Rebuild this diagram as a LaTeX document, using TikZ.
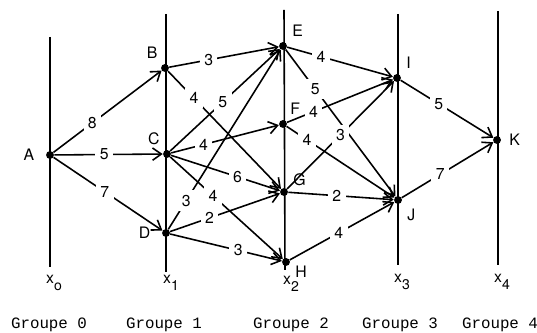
\documentclass[tikz,border=0pt]{standalone}
\usepackage{fontspec}
\setmainfont{TeX Gyre Heros}
\newfontfamily\groupefont{Liberation Mono}
\newcommand\xsub[1]{x\raisebox{-4pt}{\fontsize{8}{9}\selectfont #1}}
\usetikzlibrary{arrows.meta, positioning}

\begin{document}
\begin{tikzpicture}[x=0.02cm, y=-0.02cm, font=\fontsize{9}{10}\selectfont,
    pt/.style={circle, fill, inner sep=0pt, minimum size=4.5pt},
    arc/.style={-{Straight Barb[length=5pt,width=7pt]}, line width=0.9pt},
    w/.style={fill=white, inner sep=2.5pt},
    axe/.style={line width=0.9pt}]
    \useasboundingbox (0,0) rectangle (537,333);
    % axes des groupes
    \draw[axe] (50,37) -- (50,267);
    \draw[axe] (166,14) -- (166,272);
    \draw[axe] (284,10) -- (285,270);
    \draw[axe] (398,14) -- (398,265);
    \draw[axe] (498,11) -- (498,265);
    % sommets
    \node[pt] (a) at (50,155) {};
    \node[pt] (b) at (165,68) {};
    \node[pt] (c) at (167,154) {};
    \node[pt] (d) at (166,233) {};
    \node[pt] (e) at (283,46) {};
    \node[pt] (f) at (283,124) {};
    \node[pt] (g) at (284,192) {};
    \node[pt] (h) at (286,262) {};
    \node[pt] (i) at (397,78) {};
    \node[pt] (j) at (398,200) {};
    \node[pt] (k) at (497,140) {};
    \node[left=3pt of a] {A};
    \node[above left=0pt and -1pt of b] {B};
    \node[above left=0pt and -1pt of c] {C};
    \node[left=3pt of d] {D};
    \node[above right=0pt and 0pt of e] {E};
    \node[above right=0pt and -1pt of f] {F};
    \node[above right=-2pt and 0pt of g] {G};
    \node[below right=-3pt and 0pt of h] {H};
    \node[above right=0pt and 0pt of i] {I};
    \node[below right=0pt and 0pt of j] {J};
    \node[right=1pt of k] {K};
    % arcs
    \draw[arc] (a) -- node[w,pos=0.36]{8} (b);
    \draw[arc] (a) -- node[w,pos=0.46]{5} (c);
    \draw[arc] (a) -- node[w,pos=0.47]{7} (d);
    \draw[arc] (b) -- node[w,pos=0.36]{3} (e);
    \draw[arc] (b) -- node[w,pos=0.23]{4} (g);
    \draw[arc] (c) -- node[w,pos=0.48]{5} (e);
    \draw[arc] (c) -- node[w,pos=0.30]{4} (f);
    \draw[arc] (c) -- node[w,pos=0.61]{6} (g);
    \draw[arc] (c) -- node[w,pos=0.38]{4} (h);
    \draw[arc] (d) -- node[w,pos=0.16]{3} (e);
    \draw[arc] (d) -- node[w,pos=0.36]{2} (g);
    \draw[arc] (d) -- node[w,pos=0.61]{3} (h);
    \draw[arc] (e) -- node[w,pos=0.32]{4} (i);
    \draw[arc] (e) -- node[w,pos=0.27]{5} (j);
    \draw[arc] (f) -- node[w,pos=0.25]{4} (i);
    \draw[arc] (f) -- node[w,pos=0.19]{4} (j);
    \draw[arc] (g) -- node[w,pos=0.50]{3} (i);
    \draw[arc] (g) -- node[w,pos=0.46]{2} (j);
    \draw[arc] (h) -- node[w,pos=0.47]{4} (j);
    \draw[arc] (i) -- node[w,pos=0.41]{5} (k);
    \draw[arc] (j) -- node[w,pos=0.42]{7} (k);
    % variables et groupes
    \node (x0) at (54,283) {\xsub{o}};
    \node (x1) at (171,283) {\xsub{1}};
    \node (x2) at (291,284) {\xsub{2}};
    \node (x3) at (402,282) {\xsub{3}};
    \node (x4) at (502,282) {\xsub{4}};
    \node[font=\groupefont\fontsize{9}{10}\selectfont] (g0) at (49,325) {Groupe 0};
    \node[font=\groupefont\fontsize{9}{10}\selectfont] (g1) at (164,325) {Groupe 1};
    \node[font=\groupefont\fontsize{9}{10}\selectfont] (g2) at (291,325) {Groupe 2};
    \node[font=\groupefont\fontsize{9}{10}\selectfont] (g3) at (400,325) {Groupe 3};
    \node[font=\groupefont\fontsize{9}{10}\selectfont] (g4) at (500,325) {Groupe 4};
\end{tikzpicture}
\end{document}
